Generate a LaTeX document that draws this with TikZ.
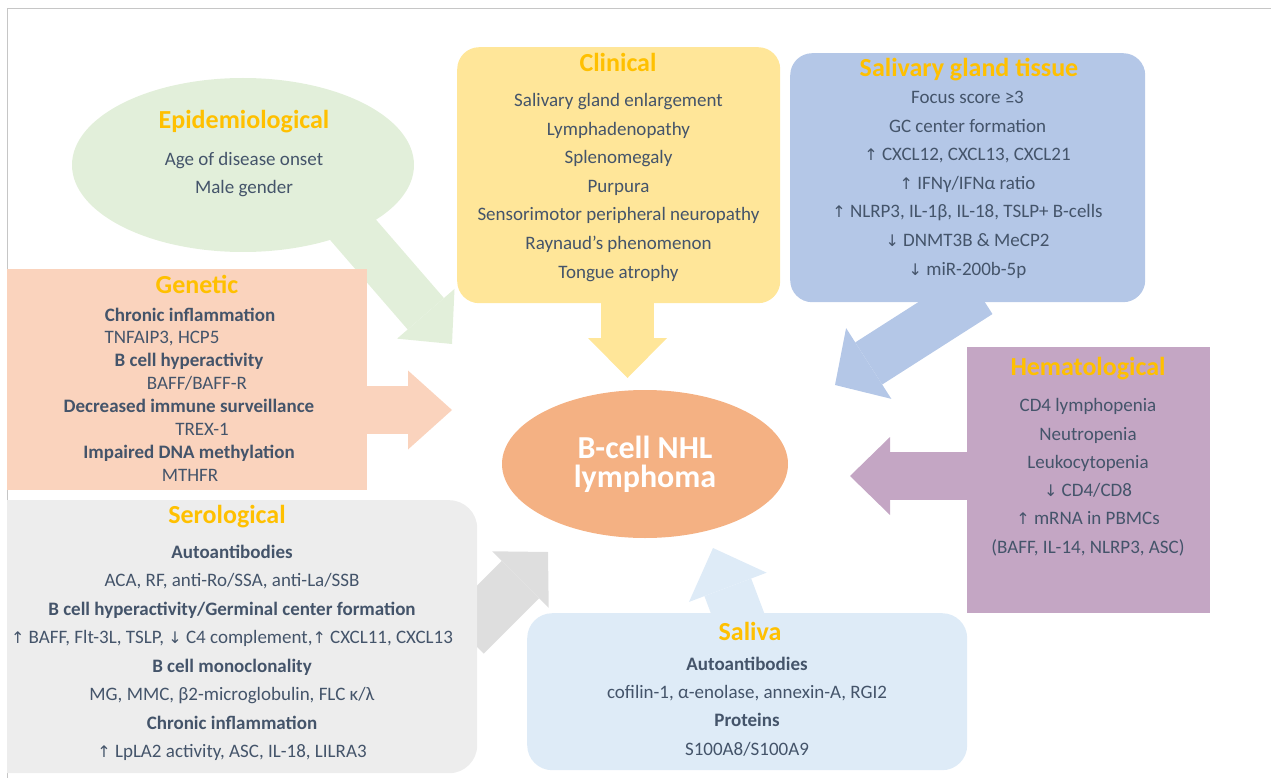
\documentclass[tikz,border=0pt]{standalone}
\usepackage{fontspec}
\setmainfont{Carlito}
\newfontfamily\symf{DejaVu Sans}
\usetikzlibrary{arrows.meta,shapes.geometric}
\newcommand\upar{{\symf\fontsize{16}{16}\selectfont ↑}}
\newcommand\dnar{{\symf\fontsize{16}{16}\selectfont ↓}}
\definecolor{epiC}{HTML}{E2EFDA}
\definecolor{clinC}{HTML}{FFE699}
\definecolor{tisC}{HTML}{B4C7E7}
\definecolor{genC}{HTML}{FAD3BD}
\definecolor{seroC}{HTML}{EDEDED}
\definecolor{seroA}{HTML}{DEDEDE}
\definecolor{hemC}{HTML}{C4A6C4}
\definecolor{salC}{HTML}{DEEBF7}
\definecolor{nhlC}{HTML}{F4B183}
\definecolor{ttlC}{HTML}{FFC000}
\definecolor{txt}{HTML}{44546A}
\pgfdeclarelayer{bg}
\pgfsetlayers{bg,main}
\begin{document}
\begin{tikzpicture}[x=1pt,y=-1pt,
  body/.style={font=\fontsize{19}{23}\selectfont, text=txt, inner sep=0pt, anchor=base},
  ttl/.style={font=\fontsize{26}{30}\selectfont\bfseries, text=ttlC, inner sep=0pt, anchor=base},
  boxr/.style={draw=none, inner sep=0pt, anchor=north west},
  blk/.style n args={4}{draw=#1, line width=#2, -{Triangle[width=#3, length=#4, line width=0pt]}}]
\useasboundingbox (0,0) rectangle (1271,778);
\draw[gray!45, line width=1pt] (7,778) -- (7,9) -- (1271,9);

% ---------- boxes ----------
\node[ellipse, fill=epiC, draw=none, inner sep=0pt, minimum width=342pt, minimum height=174pt] (epi) at (243,165) {};
\node[boxr, fill=clinC, rounded corners=22pt, minimum width=323pt, minimum height=256pt] (clin) at (457,47) {};
\node[boxr, fill=tisC, rounded corners=22pt, minimum width=355pt, minimum height=249pt] (tis) at (790,53) {};
\node[boxr, fill=genC, minimum width=360pt, minimum height=221pt] (gen) at (7,269) {};
\begin{scope}
\clip (7,0) rectangle (1271,778);
\node[boxr, fill=seroC, rounded corners=28pt, minimum width=500pt, minimum height=273pt] (sero) at (-23,500) {};
\end{scope}
\node[boxr, fill=hemC, minimum width=243pt, minimum height=266pt] (hem) at (967,347) {};
\node[boxr, fill=salC, rounded corners=25pt, minimum width=440pt, minimum height=157pt] (sal) at (527,613) {};
\node[ellipse, fill=nhlC, draw=none, inner sep=0pt, minimum width=286pt, minimum height=148pt] (nhl) at (645,464) {};

% ---------- centre text ----------
\node[inner sep=0pt, anchor=base, text=white, font=\fontsize{32}{32}\selectfont\bfseries] (nhl-1) at (645,458) {B-cell NHL};
\node[inner sep=0pt, anchor=base, text=white, font=\fontsize{32}{32}\selectfont\bfseries] (nhl-2) at (645,487.5) {lymphoma};

% ---------- Epidemiological ----------
\node[ttl] (epi-t) at (244,129) {Epidemiological};
\node[body] (epi-1) at (244,166) {Age of disease onset};
\node[body] (epi-2) at (244,193.5) {Male gender};

% ---------- Clinical ----------
\node[ttl] (clin-t) at (618,72) {Clinical};
\foreach \t [count=\i from 0] in {Salivary gland enlargement, Lymphadenopathy, Splenomegaly, Purpura, Sensorimotor peripheral neuropathy, Raynaud’s phenomenon, Tongue atrophy}
  \node[body] (clin-\i) at ({618.5},{107+28.5*\i}) {\t};

% ---------- Salivary gland tissue ----------
\node[ttl] (tis-t) at (969,77) {Salivary gland tissue};
\foreach \t [count=\i from 0] in {Focus score ≥3, GC center formation, {\upar\ CXCL12, CXCL13, CXCL21}, \upar\ IFNγ/IFNα ratio, {\upar\ NLRP3, IL-1β, IL-18, TSLP+ B-cells}, \dnar\ DNMT3B \& MeCP2, \dnar\ miR-200b-5p}
  \node[body] (tis-\i) at ({967.5},{104+28.5*\i}) {\t};

% ---------- Genetic ----------
\node[ttl] (gen-t) at (197,293) {Genetic};
\node[body] (gen-1) at (190,321) {\bfseries Chronic inflammation};
\node[body] (gen-2) at (162,343.9) {TNFAIP3, HCP5};
\node[body] (gen-3) at (189,366.8) {\bfseries B cell hyperactivity};
\node[body] (gen-4) at (197,389.7) {BAFF/BAFF-R};
\node[body] (gen-5) at (189,412.6) {\bfseries Decreased immune surveillance};
\node[body] (gen-6) at (202,435.5) {TREX-1};
\node[body] (gen-7) at (189,458.4) {\bfseries Impaired DNA methylation};
\node[body] (gen-8) at (190,481.3) {MTHFR};

% ---------- Serological ----------
\node[ttl] (sero-t) at (227,523) {Serological};
\foreach \t [count=\i from 0] in {\bfseries Autoantibodies, {ACA, RF, anti-Ro/SSA, anti-La/SSB}, \bfseries B cell hyperactivity/Germinal center formation, {\upar\ BAFF, Flt-3L, TSLP, \dnar\ C4 complement,\upar\ CXCL11, CXCL13}, \bfseries B cell monoclonality, {MG, MMC, β2-microglobulin, FLC κ/λ}, \bfseries Chronic inflammation, {\upar\ LpLA2 activity, ASC, IL-18, LILRA3}}
  \node[body] (sero-\i) at ({232},{558.3+28.5*\i}) {\t};

% ---------- Hematological ----------
\node[ttl] (hem-t) at (1088,375) {Hematological};
\foreach \t [count=\i from 0] in {CD4 lymphopenia, Neutropenia, Leukocytopenia, \dnar\ CD4/CD8, \upar\ mRNA in PBMCs, {(BAFF, IL-14, NLRP3, ASC)}}
  \node[body] (hem-\i) at ({1088},{411.7+28.3*\i}) {\t};

% ---------- Saliva ----------
\node[ttl] (sal-t) at (750,640) {Saliva};
\foreach \t [count=\i from 0] in {\bfseries Autoantibodies, {cofilin-1, α-enolase, annexin-A, RGI2}, \bfseries Proteins, S100A8/S100A9}
  \node[body] (sal-\i) at ({747},{670+28.4*\i}) {\t};

% ---------- block arrows (behind) ----------
\coordinate (epiS) at (322,194);  \coordinate (epiT) at (452,344);
\coordinate (genS) at (360,410);  \coordinate (genT) at (452,410);
\coordinate (clinS) at (627.5,296); \coordinate (clinT) at (627.5,378);
\coordinate (tisS) at (979,293);  \coordinate (tisT) at (835,385);
\coordinate (hemS) at (975,476);  \coordinate (hemT) at (850,476);
\coordinate (seroS) at (465,635); \coordinate (seroT) at (548,552);
\coordinate (salS) at (742,625);  \coordinate (salT) at (713,548);
\begin{pgfonlayer}{bg}
\draw[blk={epiC}{48pt}{76pt}{40pt}] (epiS) -- (epiT);
\draw[blk={genC}{48pt}{79pt}{44pt}] (genS) -- (genT);
\draw[blk={clinC}{53pt}{79pt}{40pt}] (clinS) -- (clinT);
\draw[blk={tisC}{50pt}{84pt}{40pt}] (tisS) -- (tisT);
\draw[blk={hemC}{48pt}{78pt}{40pt}] (hemS) -- (hemT);
\draw[blk={seroA}{53pt}{80pt}{39pt}] (seroS) -- (seroT);
\draw[blk={salC}{50pt}{83pt}{42pt}] (salS) -- (salT);
\end{pgfonlayer}
\end{tikzpicture}
\end{document}
